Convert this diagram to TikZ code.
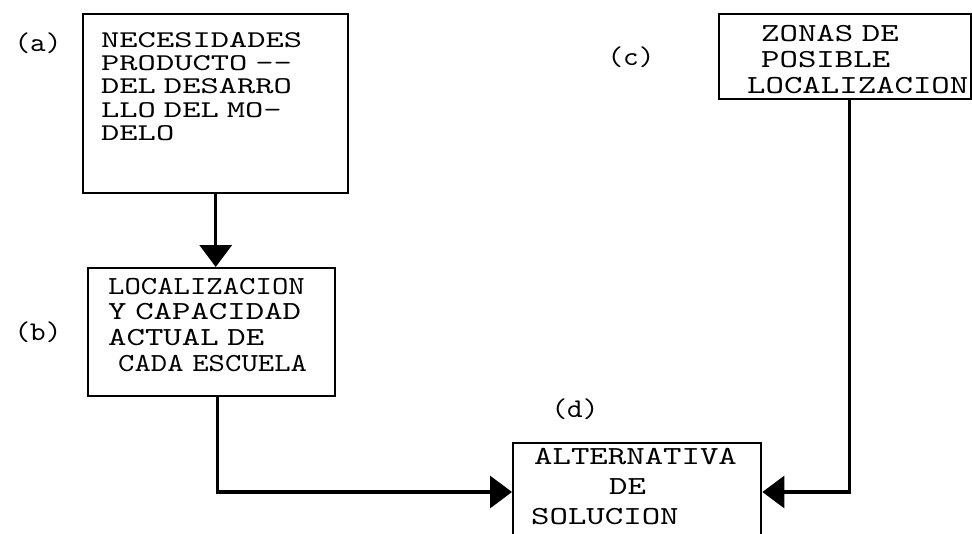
\documentclass[tikz,border=0pt]{standalone}
\usepackage{fontspec}
\newfontfamily\tw[FakeStretch=1.35]{lmmono10-regular.otf}
\newfontfamily\twa[FakeStretch=1.45]{lmmono10-regular.otf}
\newfontfamily\twn[FakeStretch=1.2]{lmmono10-regular.otf}
\newfontfamily\twt[FakeStretch=1.1]{lmmono10-regular.otf}
\usetikzlibrary{positioning, arrows.meta}
\hyphenpenalty=10000

\begin{document}
\begin{tikzpicture}[
    x=0.5pt, y=-0.5pt,
    box/.style={draw, line width=1.2pt, anchor=north west, align=left, inner ysep=0pt},
    conn/.style={line width=1.7pt, -{Triangle[length=11pt, width=16pt]}},
    tag/.style={font=\twt\fontsize{13.5}{14}\selectfont, inner sep=0pt}
]

\clip (0,0) rectangle (972,534);
\fill[white] (0,0) rectangle (972,534);

% --- boxes ---
\node[box, inner xsep=9pt, text width=114.5pt, font={\twa\fontsize{12}{11.7}\selectfont}] (nec) at (82,13)
    {\rule{0pt}{16.5pt}NECESIDADES\\ \mbox{PRODUCTO -{}-}\\ \mbox{DEL DESARRO}\\ \mbox{LLO DEL MO-}\\ DELO\rule[-26pt]{0pt}{26pt}};

\node[box, inner xsep=10pt, text width=103.5pt, font={\tw\fontsize{13}{12.8}\selectfont}] (loc) at (87,267)
    {\rule{0pt}{13pt}{\twn LOCALIZACION}\\ \mbox{Y CAPACIDAD}\\ \mbox{ACTUAL DE}\\ \hspace*{5pt}\mbox{\twn CADA ESCUELA}\rule[-12.5pt]{0pt}{12.5pt}};

\node[box, inner xsep=6pt, text width=114pt, font={\tw\fontsize{13}{13}\selectfont}] (zon) at (718,13)
    {\rule{0pt}{13.5pt}\hspace*{15pt}\mbox{ZONAS DE}\\ \hspace*{15pt}POSIBLE\\ \hspace*{8pt}\mbox{LOCALIZACION}\rule[-3pt]{0pt}{3pt}};

\node[box, inner xsep=9pt, text width=106pt, font={\tw\fontsize{13}{15}\selectfont}] (alt) at (512,442)
    {\rule{0pt}{10.5pt}\hspace*{1.5pt}ALTERNATIVA\\ \hspace*{39pt}DE\\ SOLUCION\rule[-29pt]{0pt}{29pt}};

% --- letters ---
\node[tag] (ta) at (38,43) {(a)};
\node[tag] (tb) at (38,332) {(b)};
\node[tag] (tc) at (631,57) {(c)};
\node[tag] (td) at (575,409) {(d)};

% --- connectors ---
\draw[conn] (nec.south) -- (nec.south |- loc.north);
\draw[conn] ([xshift=3pt]loc.south) |- ([yshift=-25pt]alt.north west);
\draw[conn] ([xshift=2pt]zon.south) |- ([yshift=-25pt]alt.north east);

\end{tikzpicture}
\end{document}
